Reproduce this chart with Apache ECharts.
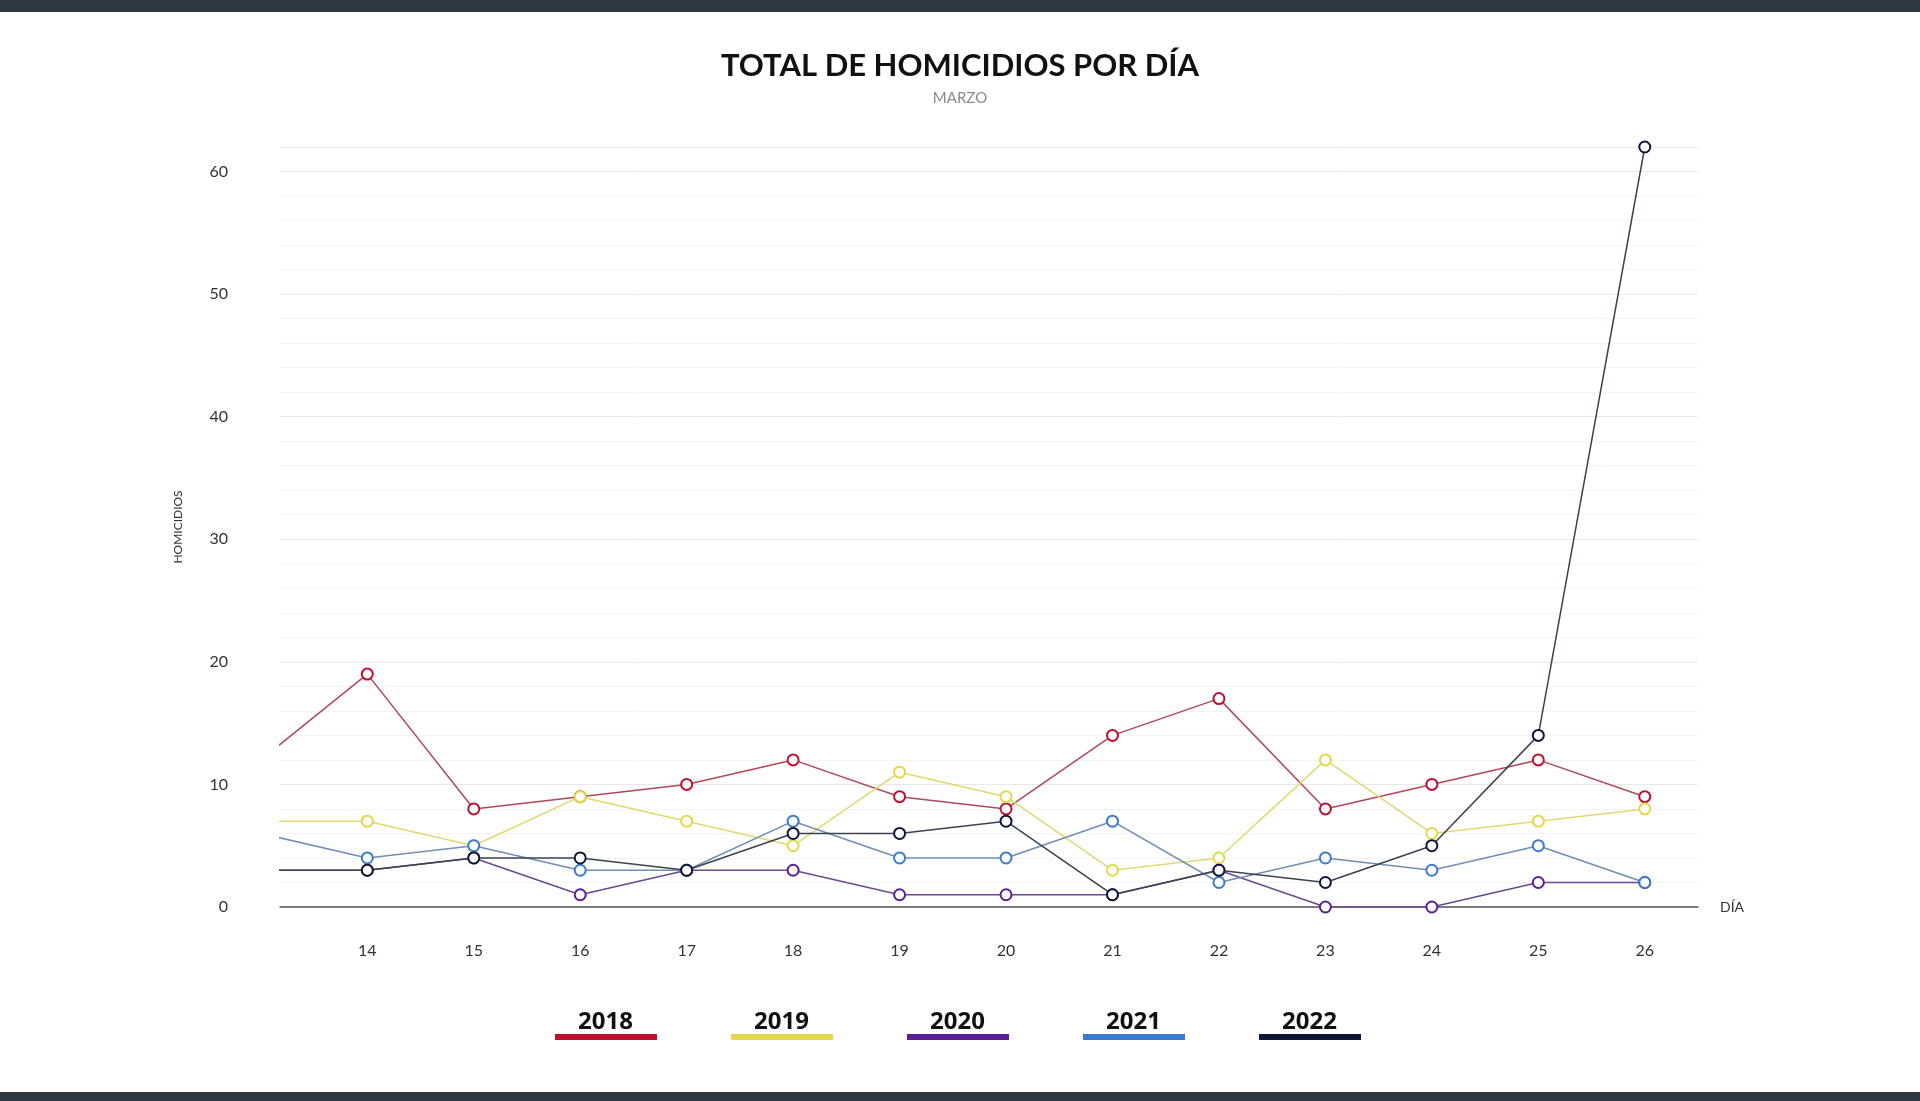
<!DOCTYPE html>
<html>
<head>
<meta charset="utf-8">
<script src="https://cdn.jsdelivr.net/npm/echarts@6/dist/echarts.min.js"></script>
<style>
html,body{margin:0;padding:0;background:#fff;}
#chart{width:1920px;height:1101px;}
</style>
</head>
<body>
<div id="chart"></div>
<script>
// Days of March (13 is only partially visible at the left edge)
const days = [13, 14, 15, 16, 17, 18, 19, 20, 21, 22, 23, 24, 25, 26];
const dayLabels = [14, 15, 16, 17, 18, 19, 20, 21, 22, 23, 24, 25, 26];
const years = ['2018', '2019', '2020', '2021', '2022'];
const v2018 = [12, 19, 8, 9, 10, 12, 9, 8, 14, 17, 8, 10, 12, 9];
const v2019 = [7, 7, 5, 9, 7, 5, 11, 9, 3, 4, 12, 6, 7, 8];
const v2020 = [3, 3, 4, 1, 3, 3, 1, 1, 1, 3, 0, 0, 2, 2];
const v2021 = [6, 4, 5, 3, 3, 7, 4, 4, 7, 2, 4, 3, 5, 2];
const v2022 = [3, 3, 4, 4, 3, 6, 6, 7, 1, 3, 2, 5, 14, 62];
const yTicks = [0, 10, 20, 30, 40, 50, 60];

const values = [v2018, v2019, v2020, v2021, v2022];
const markColors = ['#c01030', '#e3d84c', '#5a1e96', '#3a7bd0', '#0e1836'];
const lineColors = ['#b0485a', '#e0d870', '#6a4a8e', '#6f8fb4', '#3a4250'];

const chart = echarts.init(document.getElementById('chart'));
const series = years.map((y, i) => ({
  name: y,
  type: 'line',
  data: days.map((d, k) => [d, values[i][k]]),
  symbol: 'emptyCircle',
  symbolSize: 11,
  z: 2 + i,
  itemStyle: { color: markColors[i], borderColor: markColors[i], borderWidth: 3 },
  lineStyle: { color: lineColors[i], width: 1.5 },
  emphasis: { disabled: true },
  clip: true
}));

chart.setOption({
  backgroundColor: '#ffffff',
  animation: false,
  title: {
    text: 'TOTAL DE HOMICIDIOS POR DÍA',
    subtext: 'MARZO',
    left: 'center',
    top: 45,
    itemGap: 10,
    textStyle: { fontFamily: 'Lato', fontWeight: 'bold', fontSize: 31, color: '#111' },
    subtextStyle: { fontFamily: 'Lato', fontSize: 15, color: '#8a8a8a' }
  },
  graphic: [
    { type: 'rect', left: 0, top: 0, shape: { width: 1920, height: 12 }, style: { fill: '#2f3541' } },
    { type: 'rect', left: 0, top: 1092, shape: { width: 1920, height: 9 }, style: { fill: '#2f3541' } }
  ],
  legend: {
    data: years,
    top: 1007,
    left: 'center',
    padding: 0,
    icon: 'rect',
    itemWidth: 100,
    itemHeight: 4,
    itemGap: 70,
    selectedMode: false,
    formatter: name => name + '\n ',
    textStyle: {
      fontFamily: 'Noto Sans', fontWeight: 'bold', fontSize: 24, color: '#111',
      lineHeight: 30,
      padding: [0, 28, 0, -83]
    }
  },
  grid: { left: 280, right: 222, top: 147, bottom: 194 },
  xAxis: {
    type: 'value',
    min: 13.18,
    max: 26.5,
    name: 'DÍA',
    nameLocation: 'end',
    nameGap: 22,
    nameTextStyle: { fontFamily: 'Lato', fontSize: 14, color: '#333' },
    axisLine: { show: true, onZero: false, lineStyle: { color: '#555', width: 1.5 } },
    axisTick: { show: false },
    splitLine: { show: false },
    axisLabel: {
      customValues: dayLabels,
      margin: 36,
      fontFamily: 'Lato',
      fontSize: 16,
      color: '#333'
    }
  },
  yAxis: {
    type: 'value',
    min: 0,
    max: 62,
    interval: 10,
    name: 'HOMICIDIOS',
    nameLocation: 'middle',
    nameGap: 96,
    nameTextStyle: { fontFamily: 'Lato', fontSize: 12, color: '#333' },
    axisLine: { show: false },
    axisTick: { show: false },
    minorTick: { show: false, splitNumber: 5 },
    splitLine: { lineStyle: { color: '#e8e8e8', width: 1 } },
    minorSplitLine: { show: true, lineStyle: { color: '#f4f4f4', width: 1 } },
    axisLabel: {
      margin: 52,
      fontFamily: 'Lato',
      fontSize: 16,
      color: '#333',
      formatter: v => (yTicks.indexOf(v) >= 0 ? String(v) : '')
    }
  },
  series: series
});
</script>
</body>
</html>
